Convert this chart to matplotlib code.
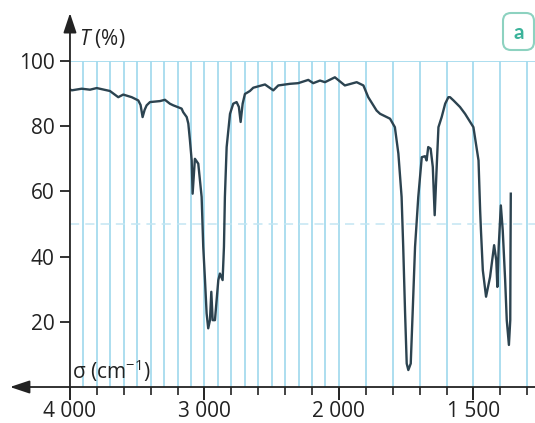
import numpy as np
import matplotlib
matplotlib.use("Agg")
import matplotlib.pyplot as plt
from matplotlib.patches import FancyBboxPatch

# Spectre IR (nombre d'onde en cm-1, transmittance en %)
sigma = [4000, 3987, 3913, 3851, 3801, 3703, 3641, 3604, 3541, 3492, 3475, 3460,
         3445, 3430, 3405, 3331, 3294, 3257, 3232, 3170, 3158, 3132, 3120, 3108,
         3095, 3088, 3071, 3046, 3021, 3009, 2996, 2984, 2972, 2959, 2949, 2939,
         2922, 2897, 2885, 2865, 2855, 2848, 2835, 2810, 2786, 2761, 2744, 2731,
         2716, 2699, 2686, 2662, 2637, 2550, 2488, 2451, 2364, 2303, 2228, 2191,
         2141, 2104, 2030, 1978, 1934, 1909, 1891, 1860, 1847, 1810, 1792, 1779,
         1767, 1761, 1754, 1748, 1742, 1733, 1726, 1717, 1705, 1692, 1680, 1674,
         1668, 1659, 1651, 1644, 1636, 1630, 1618, 1605, 1593, 1587, 1574, 1550,
         1531, 1500, 1481, 1475, 1472, 1465, 1453, 1438, 1423, 1415, 1411, 1406,
         1398, 1391, 1382, 1376, 1368, 1363, 1362, 1361]
transmittance = [91.3, 91.0, 91.5, 91.2, 91.7, 90.8, 88.9, 89.7, 88.9, 87.9, 86.5, 82.8,
                 85.0, 86.4, 87.4, 87.7, 88.1, 86.9, 86.4, 85.4, 84.3, 82.8, 80.8, 75.7,
                 69.5, 59.3, 70.0, 68.5, 58.3, 43.0, 32.8, 22.6, 18.0, 20.5, 29.2, 20.5,
                 20.5, 32.8, 34.8, 32.8, 43.0, 58.3, 73.6, 83.8, 86.9, 87.4, 85.9, 81.3,
                 86.9, 89.9, 90.2, 90.8, 91.8, 92.8, 91.0, 92.5, 93.0, 93.2, 94.2, 93.2,
                 94.0, 93.5, 95.0, 92.5, 93.5, 92.5, 88.9, 84.8, 83.8, 82.3, 79.7, 71.6,
                 58.3, 43.0, 22.6, 7.2, 5.2, 7.2, 22.6, 43.0, 58.3, 70.5, 70.8, 69.5,
                 73.6, 73.1, 67.5, 52.7, 68.5, 79.7, 82.8, 86.9, 88.9, 88.9, 87.9, 85.9,
                 83.8, 79.7, 69.5, 54.2, 48.1, 35.8, 27.7, 33.8, 43.5, 38.9, 30.7, 43.0,
                 55.7, 48.1, 32.8, 20.5, 12.9, 20.5, 43.0, 59.3]

major_ticks = [4000, 3000, 2000, 1500]
major_labels = ["4 000", "3 000", "2 000", "1 500"]
minor_ticks = [3800, 3600, 3400, 3200, 2800, 2600, 2400, 2200,
               1900, 1800, 1700, 1600, 1400, 1300]
y_ticks = [20, 40, 60, 80, 100]

GRID = "#a6dbee"
INK = "#222222"

plt.rcParams["font.family"] = ["Open Sans", "DejaVu Sans"]
plt.rcParams["mathtext.fontset"] = "custom"
plt.rcParams["mathtext.rm"] = "Open Sans"
plt.rcParams["mathtext.it"] = "Open Sans:italic"


# échelle double : la zone sous 2000 cm-1 est dilatée d'un facteur 2
def fwd(s):
    s = np.asarray(s, dtype=float)
    return np.where(s >= 2000, s, 2 * s - 2000)


def inv(u):
    u = np.asarray(u, dtype=float)
    return np.where(u >= 2000, u, (u + 2000) / 2)


fig = plt.figure(figsize=(5.35, 4.23), dpi=100)
ax = fig.add_axes([0.1308, 0.0851, 0.8692, 0.7707])
ax.set_xscale("function", functions=(fwd, inv))
ax.set_xlim(4000, 1271)
ax.set_ylim(0, 100)

# quadrillage
grid_pos = list(range(3900, 1999, -100)) + list(range(1900, 1299, -100))
ax.vlines(grid_pos, 0, 100, colors=GRID, lw=1.3, zorder=1)
ax.axhline(100, color=GRID, lw=1.3, zorder=1)
ax.axhline(50, color="#c4e6f3", lw=1.1, ls=(0, (6, 4)), zorder=1)

ax.plot(sigma, transmittance, color="#2c4350", lw=1.7,
        solid_joinstyle="round", zorder=3)

for sp in ax.spines.values():
    sp.set_visible(False)

ax.set_xticks(major_ticks)
ax.set_xticklabels(major_labels)
ax.set_xticks(minor_ticks, minor=True)
ax.set_yticks(y_ticks)
ax.tick_params(axis="x", which="major", length=9, width=1.4, color=INK,
               labelsize=15, labelcolor=INK, pad=1)
ax.tick_params(axis="x", which="minor", length=6, width=1.2, color=INK)
ax.tick_params(axis="y", length=7, width=1.3, color=INK,
               labelsize=15, labelcolor=INK, pad=4)

# axes fléchés
arrow = dict(arrowstyle="-|>,head_length=1.2,head_width=0.4", mutation_scale=10,
             color=INK, lw=1.3, shrinkA=0, shrinkB=0)
ax.annotate("", xy=(-0.129, 0), xytext=(1.0, 0), xycoords="axes fraction",
            arrowprops=arrow, annotation_clip=False)
ax.annotate("", xy=(0, 1.147), xytext=(0, 0), xycoords="axes fraction",
            arrowprops=arrow, annotation_clip=False)

ax.text(0.02, 1.035, "$T$ (%)", transform=ax.transAxes, fontsize=15,
        color=INK, ha="left", va="bottom")
ax.text(0.004, 0.01, "σ (cm$^{-1}$)", transform=ax.transAxes, fontsize=15,
        color=INK, ha="left", va="bottom", zorder=4)

# pastille "a"
badge = FancyBboxPatch((5.03, 3.73), 0.31, 0.37,
                       boxstyle="round,pad=0,rounding_size=0.08",
                       transform=fig.dpi_scale_trans, fc="white",
                       ec="#8dd2c0", lw=1.5)
fig.add_artist(badge)
fig.text(5.185 / 5.35, 3.90 / 4.23, "a", ha="center", va="center",
         fontsize=15, fontweight="bold", color="#3bb39a", family="Lato")

fig.savefig("out.png", dpi=100)
